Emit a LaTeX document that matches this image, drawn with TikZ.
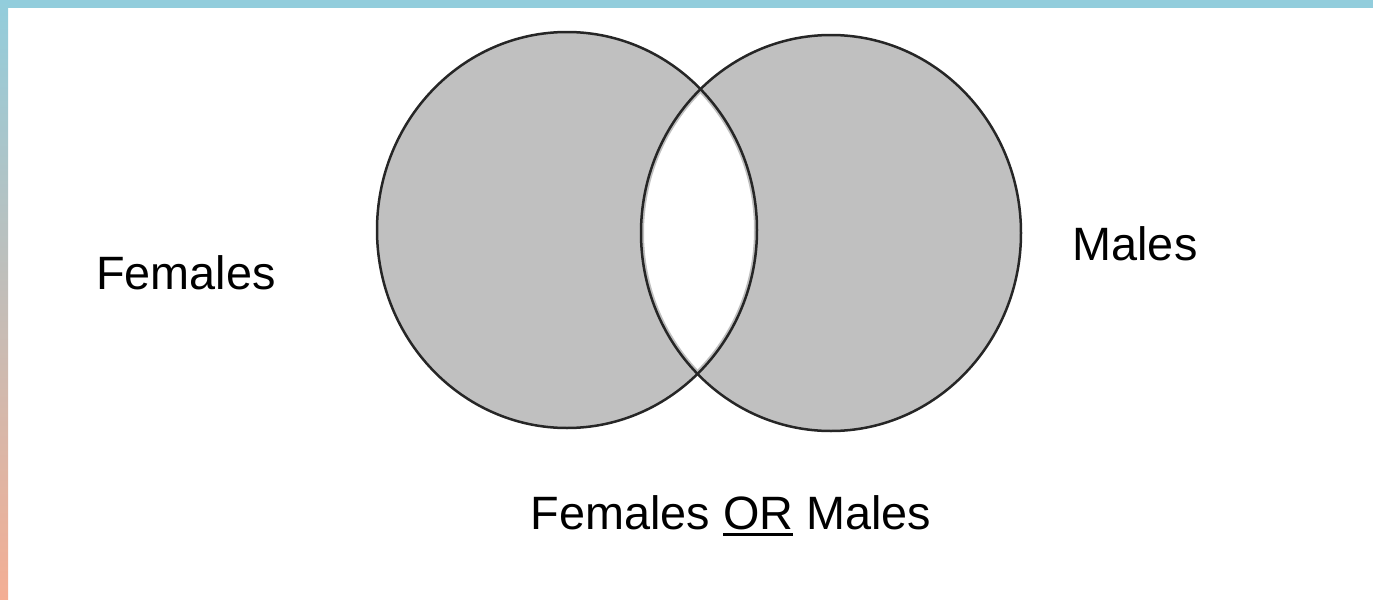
\documentclass[tikz,border=0pt]{standalone}
\usepackage{fontspec}
\setmainfont{Liberation Sans}
\newcommand\thickul[1]{\vtop{\hbox{#1}\kern1.8pt\hrule height 1.7pt}}
\definecolor{setgray}{HTML}{C0C0C0}
\definecolor{rimline}{HTML}{262626}
\definecolor{barteal}{HTML}{92CDDC}
\definecolor{barsalmon}{HTML}{F4AE94}

\begin{document}
\begin{tikzpicture}[x=0.5pt,y=-0.5pt,
  setfill/.style={fill=setgray},
  setline/.style={draw=rimline,line width=1.25pt},
  settext/.style={font=\fontsize{23.4}{28}\selectfont,anchor=base}]
  \useasboundingbox (0,0) rectangle (1373,600);
  % frame bars
  \fill[barteal] (0,0) rectangle (1373,8);
  \shade[top color=barteal,bottom color=barsalmon] (0,0) rectangle (8,600);
  % the two sets
  \coordinate (F) at (567,230);
  \coordinate (M) at (831,233);
  \fill[setfill] (F) ellipse [x radius=190, y radius=198];
  \fill[setfill] (M) ellipse [x radius=190, y radius=198];
  % intersection left blank
  \begin{scope}
    \clip (F) ellipse [x radius=190, y radius=198];
    \fill[white, draw=setgray, line width=3pt] (M) ellipse [x radius=190, y radius=198];
  \end{scope}
  \begin{scope}
    \clip (M) ellipse [x radius=190, y radius=198];
    \draw[setgray, line width=3pt] (F) ellipse [x radius=190, y radius=198];
  \end{scope}
  \draw[setline] (F) ellipse [x radius=190, y radius=198];
  \draw[setline] (M) ellipse [x radius=190, y radius=198];
  % labels
  \node[settext] (females) at (186,289) {Females};
  \node[settext] (males) at (1135,260) {Males};
  \node[settext] (union) at (731,529) {Females \thickul{OR} Males};
\end{tikzpicture}
\end{document}
